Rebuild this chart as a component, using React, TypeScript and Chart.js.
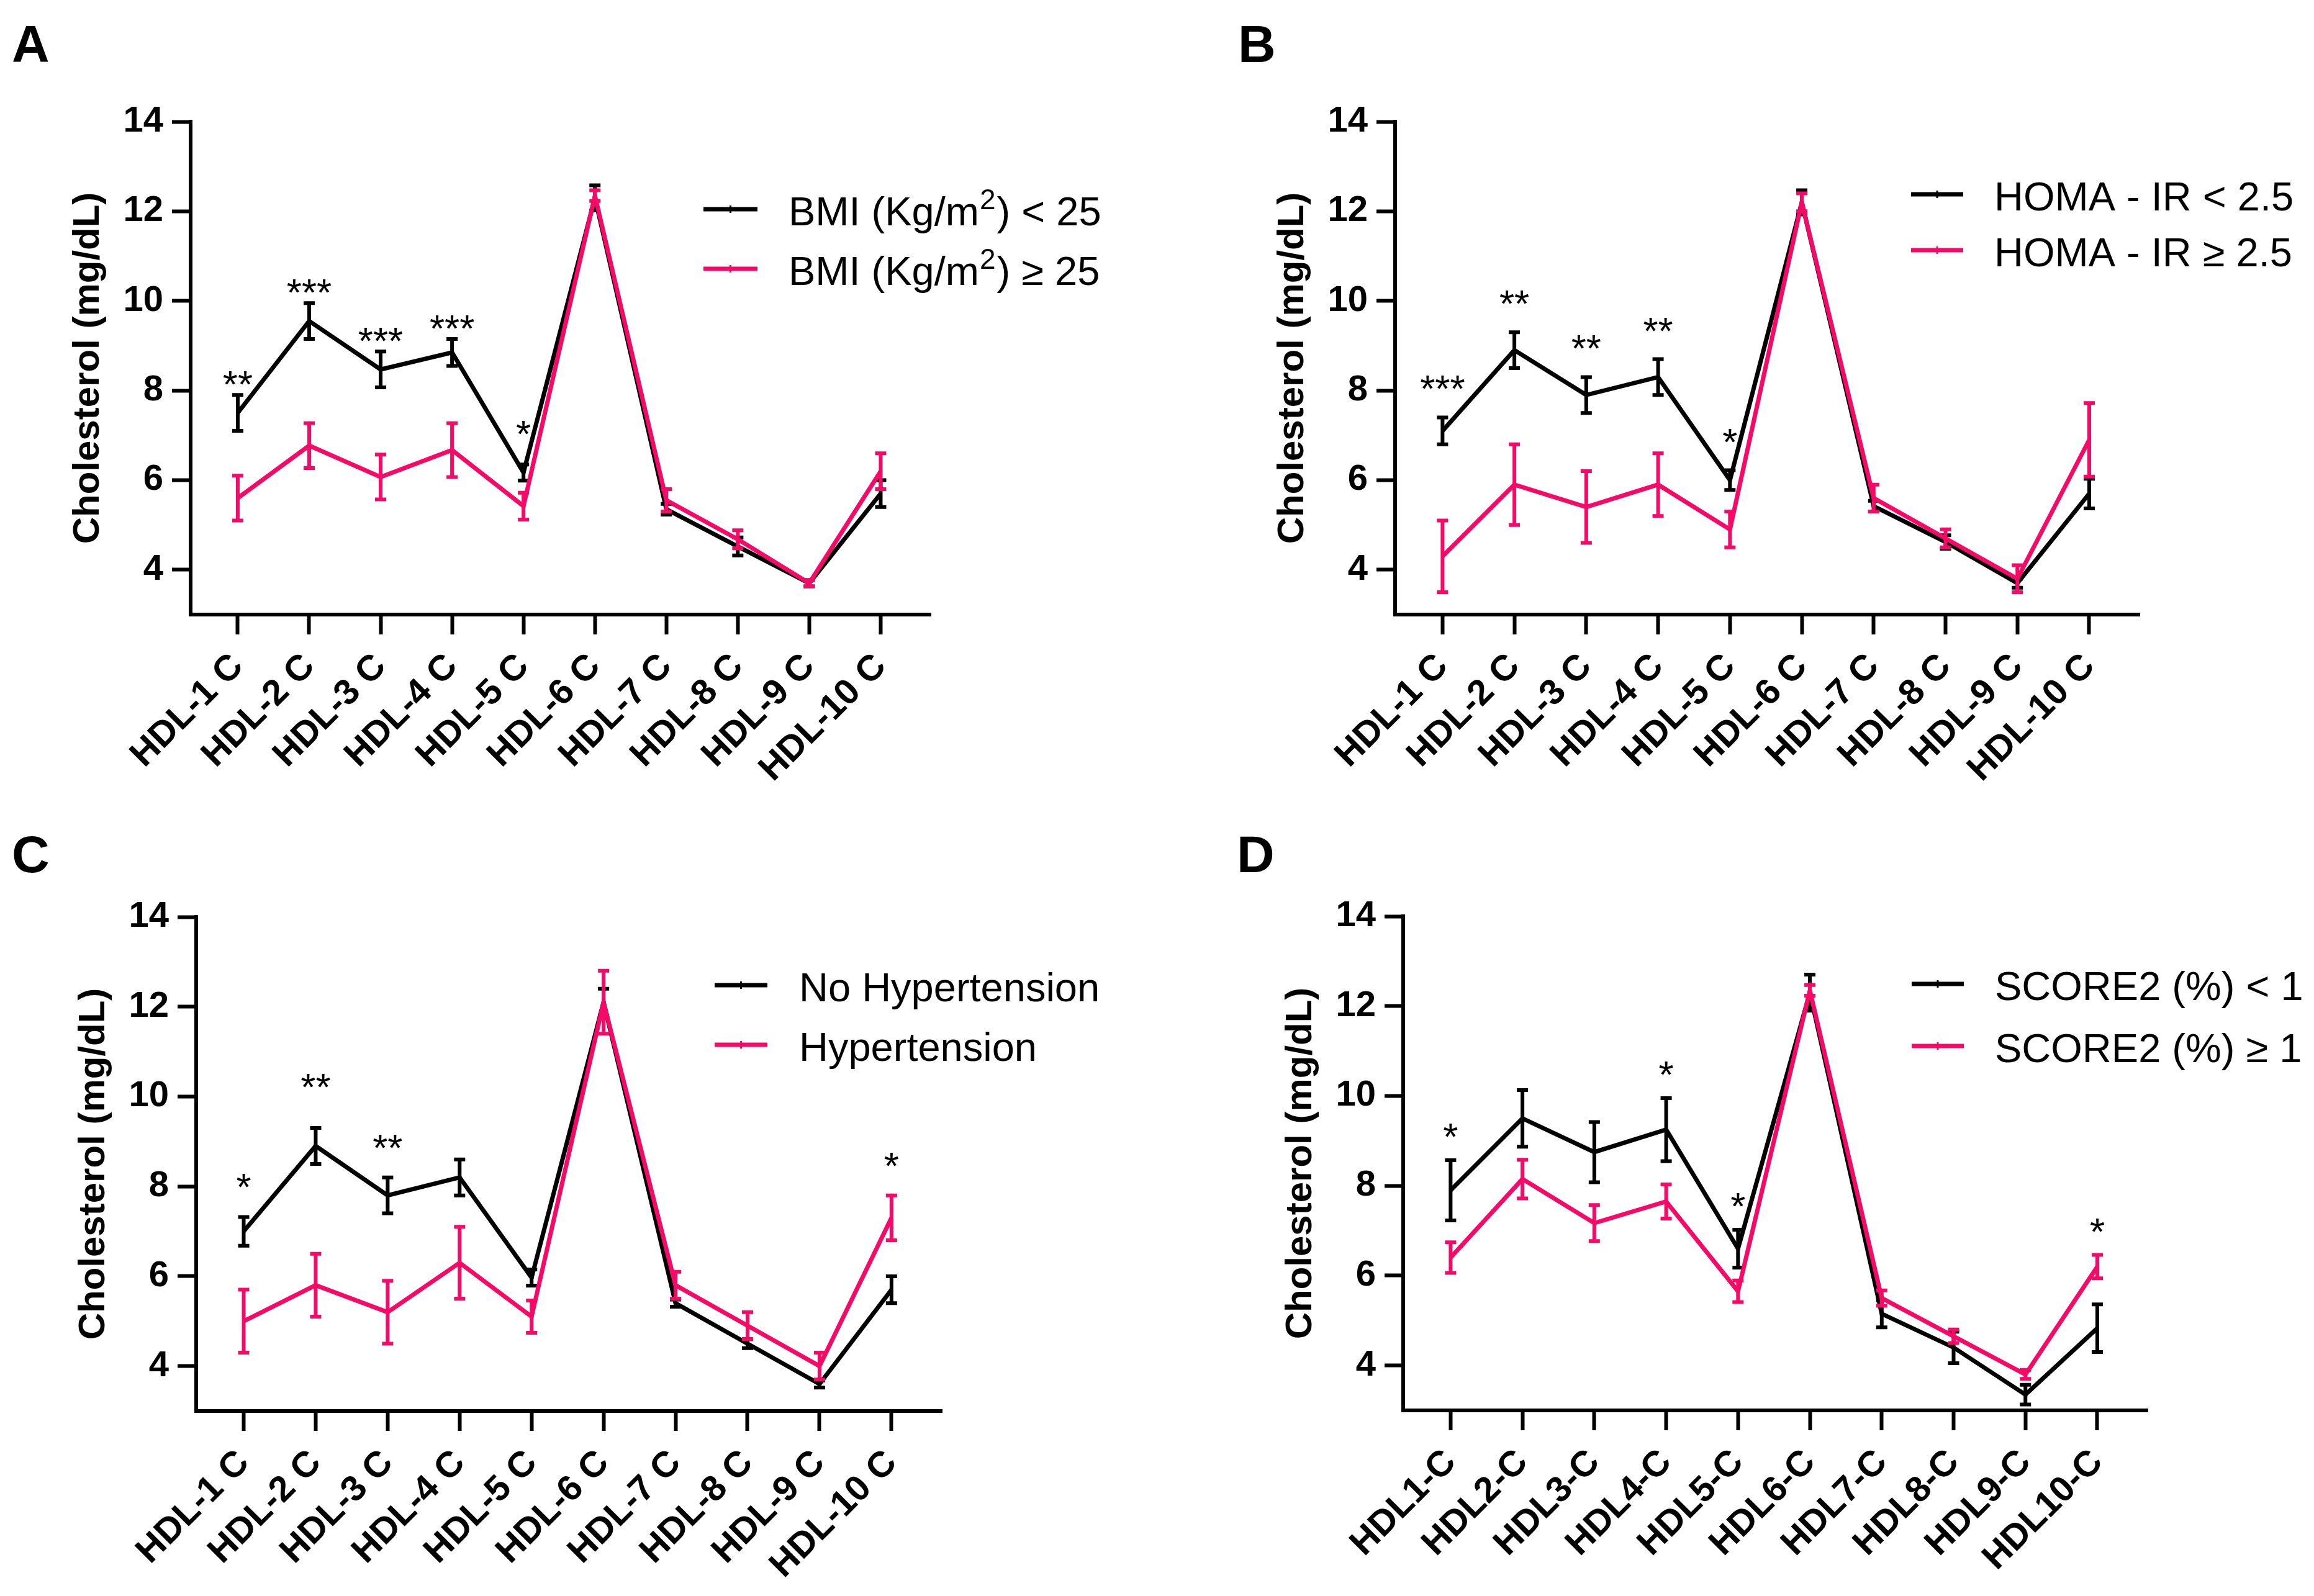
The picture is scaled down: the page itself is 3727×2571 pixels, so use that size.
import React, { useEffect, useRef } from "react";
import { Chart, registerables } from "chart.js";

Chart.register(...registerables);

// ---------- data ----------
const CATEGORIES_ABC = ["HDL-1 C", "HDL-2 C", "HDL-3 C", "HDL-4 C", "HDL-5 C", "HDL-6 C", "HDL-7 C", "HDL-8 C", "HDL-9 C", "HDL-10 C"];
const CATEGORIES_D = ["HDL1-C", "HDL2-C", "HDL3-C", "HDL4-C", "HDL5-C", "HDL6-C", "HDL7-C", "HDL8-C", "HDL9-C", "HDL10-C"];
const Y_TICKS = [4, 6, 8, 10, 12, 14];
const Y_MIN = 3;
const Y_MAX = 14;
const Y_TITLE = "Cholesterol (mg/dL)";

// Panel A: BMI
const A_LOW_LABEL = "BMI (Kg/m²) < 25";
const A_LOW_MEAN = [7.5, 9.55, 8.47, 8.85, 6.17, 12.3, 5.35, 4.52, 3.7, 5.7];
const A_LOW_ERR = [0.4, 0.4, 0.4, 0.3, 0.18, 0.28, 0.12, 0.2, 0.07, 0.3];
const A_HIGH_LABEL = "BMI (Kg/m²) ≥ 25";
const A_HIGH_MEAN = [5.6, 6.77, 6.07, 6.67, 5.42, 12.35, 5.55, 4.68, 3.7, 6.2];
const A_HIGH_ERR = [0.5, 0.5, 0.5, 0.6, 0.3, 0.12, 0.25, 0.2, 0.07, 0.4];
const A_SIG = ["**", "***", "***", "***", "*", "", "", "", "", ""];

// Panel B: HOMA-IR
const B_LOW_LABEL = "HOMA - IR < 2.5";
const B_LOW_MEAN = [7.1, 8.9, 7.9, 8.3, 6.0, 12.2, 5.42, 4.62, 3.7, 5.7];
const B_LOW_ERR = [0.3, 0.4, 0.4, 0.4, 0.22, 0.27, 0.12, 0.15, 0.1, 0.33];
const B_HIGH_LABEL = "HOMA - IR ≥ 2.5";
const B_HIGH_MEAN = [4.3, 5.9, 5.4, 5.9, 4.9, 12.2, 5.6, 4.7, 3.8, 6.9];
const B_HIGH_ERR = [0.8, 0.9, 0.8, 0.7, 0.4, 0.2, 0.3, 0.2, 0.3, 0.82];
const B_SIG = ["***", "**", "**", "**", "*", "", "", "", "", ""];

// Panel C: Hypertension
const C_LOW_LABEL = "No Hypertension";
const C_LOW_MEAN = [7.0, 8.9, 7.8, 8.2, 5.97, 12.1, 5.4, 4.5, 3.6, 5.7];
const C_LOW_ERR = [0.32, 0.4, 0.4, 0.4, 0.18, 0.3, 0.08, 0.1, 0.08, 0.3];
const C_HIGH_LABEL = "Hypertension";
const C_HIGH_MEAN = [5.0, 5.8, 5.2, 6.3, 5.1, 12.1, 5.8, 4.9, 4.0, 7.3];
const C_HIGH_ERR = [0.7, 0.7, 0.7, 0.8, 0.36, 0.7, 0.3, 0.3, 0.3, 0.5];
const C_SIG = ["*", "**", "**", "", "", "", "", "", "", "*"];

// Panel D: SCORE2
const D_LOW_LABEL = "SCORE2 (%) < 1";
const D_LOW_MEAN = [7.9, 9.5, 8.75, 9.25, 6.6, 12.3, 5.15, 4.4, 3.35, 4.83];
const D_LOW_ERR = [0.67, 0.63, 0.67, 0.7, 0.42, 0.4, 0.3, 0.35, 0.22, 0.53];
const D_HIGH_LABEL = "SCORE2 (%) ≥ 1";
const D_HIGH_MEAN = [6.4, 8.15, 7.17, 7.65, 5.65, 12.35, 5.5, 4.65, 3.8, 6.2];
const D_HIGH_ERR = [0.34, 0.43, 0.4, 0.38, 0.24, 0.12, 0.17, 0.15, 0.1, 0.26];
const D_SIG = ["*", "", "", "*", "*", "", "", "", "", "*"];

// ---------- styles ----------
const BLACK = "#000000";
const PINK = "#F50A68";
const FONT = "'Liberation Sans', Arial, Helvetica, sans-serif";

type Series = { label: string; mean: number[]; err: number[]; color: string };
type PanelCfg = {
  letter: string;
  labels: string[];
  series: Series[];
  sig: string[];
  left: number; top: number; w: number; h: number;
  areaL: number; areaR: number; areaT: number; areaB: number;
  legX1: number; legX2: number; legTextX: number; legRows: number[];
  letterX: number; letterY: number;
  starGap: number;
  starLift: Record<number, number>;
};

const PANELS: PanelCfg[] = [
  {
    letter: "A", labels: CATEGORIES_ABC, sig: A_SIG,
    series: [
      { label: A_LOW_LABEL, mean: A_LOW_MEAN, err: A_LOW_ERR, color: BLACK },
      { label: A_HIGH_LABEL, mean: A_HIGH_MEAN, err: A_HIGH_ERR, color: PINK },
    ],
    left: 0, top: 0, w: 1864, h: 1285,
    areaL: 307, areaR: 1499, areaT: 196, areaB: 990,
    legX1: 1133, legX2: 1220, legTextX: 1270, legRows: [337, 433],
    letterX: 19, letterY: 100, starGap: 31, starLift: { 4: 32 },
  },
  {
    letter: "B", labels: CATEGORIES_ABC, sig: B_SIG,
    series: [
      { label: B_LOW_LABEL, mean: B_LOW_MEAN, err: B_LOW_ERR, color: BLACK },
      { label: B_HIGH_LABEL, mean: B_HIGH_MEAN, err: B_HIGH_ERR, color: PINK },
    ],
    left: 1864, top: 0, w: 1863, h: 1285,
    areaL: 383, areaR: 1582, areaT: 196, areaB: 990,
    legX1: 1214, legX2: 1298, legTextX: 1348, legRows: [313, 403],
    letterX: 130, letterY: 100, starGap: 60, starLift: {},
  },
  {
    letter: "C", labels: CATEGORIES_ABC, sig: C_SIG,
    series: [
      { label: C_LOW_LABEL, mean: C_LOW_MEAN, err: C_LOW_ERR, color: BLACK },
      { label: C_HIGH_LABEL, mean: C_HIGH_MEAN, err: C_HIGH_ERR, color: PINK },
    ],
    left: 0, top: 1285, w: 1864, h: 1286,
    areaL: 316, areaR: 1517, areaT: 192, areaB: 988,
    legX1: 1151, legX2: 1236, legTextX: 1287, legRows: [302, 398],
    letterX: 19, letterY: 120, starGap: 62, starLift: { 1: 18 },
  },
  {
    letter: "D", labels: CATEGORIES_D, sig: D_SIG,
    series: [
      { label: D_LOW_LABEL, mean: D_LOW_MEAN, err: D_LOW_ERR, color: BLACK },
      { label: D_HIGH_LABEL, mean: D_HIGH_MEAN, err: D_HIGH_ERR, color: PINK },
    ],
    left: 1864, top: 1285, w: 1863, h: 1286,
    areaL: 396, areaR: 1595, areaT: 191, areaB: 987,
    legX1: 1215, legX2: 1299, legTextX: 1349, legRows: [300, 400],
    letterX: 128, letterY: 120, starGap: 52, starLift: {},
  },
];

function drawLegendText(ctx: CanvasRenderingContext2D, text: string, x: number, y: number) {
  const parts = text.split("²");
  let cx = x;
  ctx.textAlign = "left";
  ctx.textBaseline = "alphabetic";
  parts.forEach((p, i) => {
    ctx.font = `65px ${FONT}`;
    ctx.fillText(p, cx, y);
    cx += ctx.measureText(p).width;
    if (i < parts.length - 1) {
      ctx.font = `46px ${FONT}`;
      ctx.fillText("2", cx + 1, y - 26);
      cx += ctx.measureText("2").width + 3;
    }
  });
}

function makeOverlay(cfg: PanelCfg) {
  return {
    id: "overlay" + cfg.letter,
    afterDatasetDraw(chart: any, args: any) {
      const s = cfg.series[args.index];
      if (!s) return;
      const { ctx } = chart;
      const xs = chart.scales.x;
      const ys = chart.scales.y;
      ctx.save();
      ctx.strokeStyle = s.color;
      ctx.lineWidth = 6;
      ctx.lineCap = "butt";
      s.mean.forEach((m, i) => {
        const px = xs.getPixelForValue(i);
        const top = ys.getPixelForValue(m + s.err[i]);
        const bot = ys.getPixelForValue(m - s.err[i]);
        ctx.beginPath();
        ctx.moveTo(px, top - 3);
        ctx.lineTo(px, bot + 3);
        ctx.moveTo(px - 9, top);
        ctx.lineTo(px + 9, top);
        ctx.moveTo(px - 9, bot);
        ctx.lineTo(px + 9, bot);
        ctx.stroke();
      });
      ctx.restore();
    },
    afterDraw(chart: any) {
      const { ctx } = chart;
      const xs = chart.scales.x;
      const ys = chart.scales.y;
      ctx.save();
      // significance stars
      ctx.fillStyle = "#000";
      ctx.font = `62px ${FONT}`;
      ctx.textAlign = "center";
      ctx.textBaseline = "alphabetic";
      cfg.sig.forEach((t, i) => {
        if (!t) return;
        const tops = cfg.series.map((s) => ys.getPixelForValue(s.mean[i] + s.err[i]));
        const top = Math.min(...tops);
        const lift = cfg.starLift[i] || 0;
        ctx.fillText(t, xs.getPixelForValue(i), top - cfg.starGap - lift + 35);
      });
      // legend
      cfg.series.forEach((s, k) => {
        const ry = cfg.legRows[k];
        ctx.strokeStyle = s.color;
        ctx.lineWidth = 7;
        ctx.beginPath();
        ctx.moveTo(cfg.legX1, ry);
        ctx.lineTo(cfg.legX2, ry);
        ctx.stroke();
        const mid = (cfg.legX1 + cfg.legX2) / 2;
        ctx.lineWidth = 3;
        ctx.beginPath();
        ctx.moveTo(mid, ry - 6);
        ctx.lineTo(mid, ry + 6);
        ctx.stroke();
        ctx.fillStyle = "#000";
        drawLegendText(ctx, s.label, cfg.legTextX, ry + 26);
      });
      // panel letter
      ctx.fillStyle = "#000";
      ctx.font = `bold 84px ${FONT}`;
      ctx.textAlign = "left";
      ctx.textBaseline = "alphabetic";
      ctx.fillText(cfg.letter, cfg.letterX, cfg.letterY);
      ctx.restore();
    },
  };
}

function buildConfig(cfg: PanelCfg): any {
  const tickFont = { family: FONT, size: 58, weight: "bold" as const };
  const datasets = cfg.series.map((s, k) => ({
    label: s.label,
    data: s.mean.map((m, i) => ({ x: i, y: m })),
    borderColor: s.color,
    backgroundColor: s.color,
    borderWidth: 7,
    pointRadius: 0,
    tension: 0,
    fill: false,
    order: cfg.series.length - k,
  }));
  return {
    type: "line",
    data: { datasets },
    plugins: [makeOverlay(cfg)],
    options: {
      responsive: false,
      animation: false,
      devicePixelRatio: 1,
      events: [],
      layout: { padding: { left: 0, top: cfg.areaT, right: cfg.w - cfg.areaR, bottom: 0 } },
      plugins: { legend: { display: false }, tooltip: { enabled: false } },
      scales: {
        x: {
          type: "linear",
          min: -0.66,
          max: 9.7,
          afterBuildTicks: (s: any) => {
            s.ticks = cfg.labels.map((_, i) => ({ value: i }));
          },
          afterFit: (s: any) => {
            s.height = cfg.h - cfg.areaB;
            s.paddingLeft = 0;
            s.paddingRight = 0;
          },
          ticks: {
            autoSkip: false,
            minRotation: 45,
            maxRotation: 45,
            padding: 18,
            color: "#000",
            font: tickFont,
            callback: (v: number) => cfg.labels[Math.round(v)] ?? "",
          },
          grid: { drawOnChartArea: false, drawTicks: true, tickLength: 32, tickWidth: 6, tickColor: "#000" },
          border: { display: true, width: 6, color: "#000" },
        },
        y: {
          type: "linear",
          min: Y_MIN,
          max: Y_MAX,
          afterBuildTicks: (s: any) => {
            s.ticks = Y_TICKS.map((v) => ({ value: v }));
          },
          afterFit: (s: any) => {
            s.width = cfg.areaL;
            s.paddingTop = 0;
            s.paddingBottom = 0;
          },
          ticks: {
            padding: 14,
            color: "#000",
            font: tickFont,
            callback: (v: number) => String(v),
          },
          grid: { drawOnChartArea: false, drawTicks: true, tickLength: 30, tickWidth: 6, tickColor: "#000" },
          border: { display: true, width: 6, color: "#000" },
          title: {
            display: true,
            text: Y_TITLE,
            color: "#000",
            font: { family: FONT, size: 60, weight: "bold", lineHeight: 1 },
            padding: { top: cfg.areaL - 195, bottom: 0 },
          },
        },
      },
    },
  };
}

function Panel({ cfg }: { cfg: PanelCfg }) {
  const ref = useRef<HTMLCanvasElement>(null);
  useEffect(() => {
    if (!ref.current) return;
    const chart = new Chart(ref.current, buildConfig(cfg));
    return () => chart.destroy();
  }, [cfg]);
  return (
    <canvas
      ref={ref}
      width={cfg.w}
      height={cfg.h}
      style={{ position: "absolute", left: cfg.left, top: cfg.top, width: cfg.w, height: cfg.h }}
    />
  );
}

export default function App() {
  return (
    <div
      style={{
        position: "fixed",
        left: 0,
        top: 0,
        width: 3727,
        height: 2571,
        background: "#ffffff",
        overflow: "hidden",
      }}
    >
      {PANELS.map((p) => (
        <Panel key={p.letter} cfg={p} />
      ))}
    </div>
  );
}
